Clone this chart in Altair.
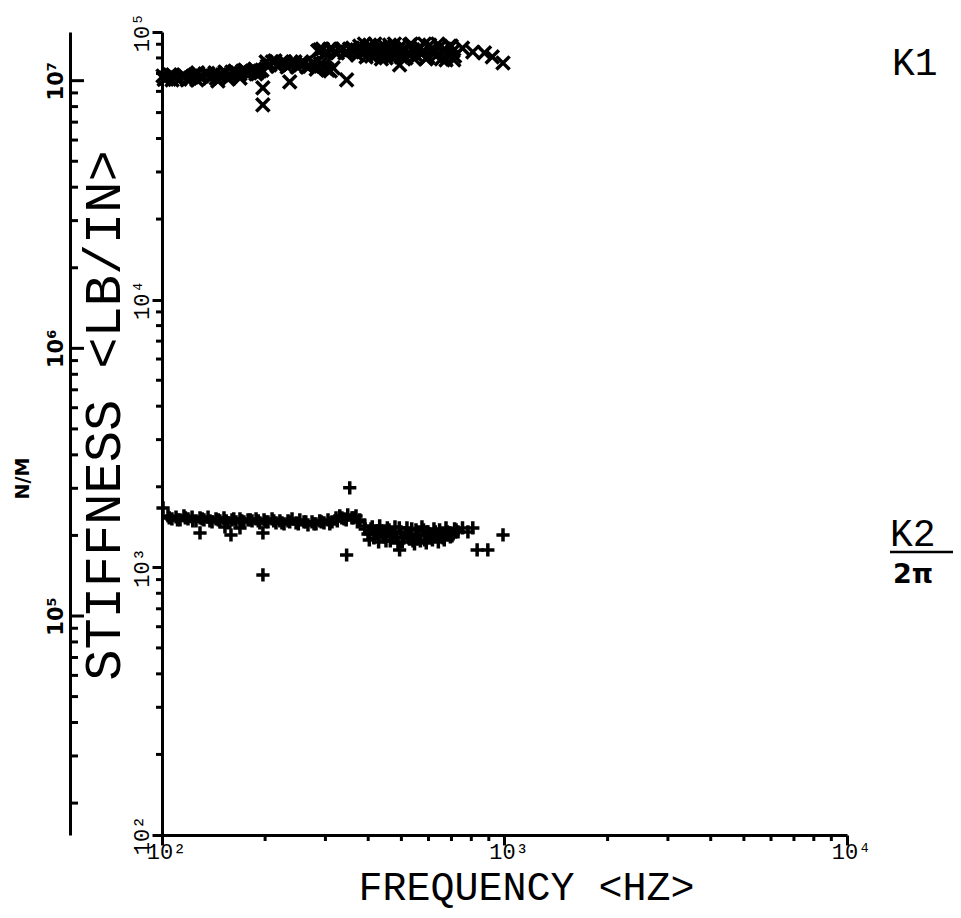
import altair as alt
import pandas as pd

# ---------------- data ----------------
# K1 : dynamic stiffness, lb/in  (x markers)
k1_freq = [100.7, 102.7, 105.5, 109.1, 112.9, 116.7, 120.7, 124.8, 129.1, 133.5,
           138.1, 142.8, 145.6, 147.6, 152.7, 157.9, 163.3, 168.9, 174.6, 180.6,
           186.7, 190.5, 195.8, 107.0, 156.0, 127.0, 169.0,
           101.5, 104.0, 107.5, 111.0, 114.5, 118.5, 122.5, 126.5, 131.0, 136.0,
           140.0, 144.0, 150.0, 155.0, 160.0, 166.0, 172.0, 177.0, 183.0, 188.0, 193.0,
           201.4, 206.6, 213.6, 220.9, 228.5, 236.3, 244.3, 252.6, 261.2, 270.2,
           279.4, 285.0, 294.8, 305.0, 316.0,
           203.0, 210.0, 217.0, 224.0, 232.0, 240.0, 248.0, 256.0, 265.0, 275.0,
           282.0, 290.0, 300.0, 310.0,
           197.0, 197.0, 236.0, 346.0,
           289.0, 299.0, 309.0, 320.0, 330.0, 342.0, 353.0, 365.0,
           285.0, 294.0, 304.0, 314.0, 325.0, 336.0, 347.0, 359.0, 371.0,
           377.8, 386.4, 394.2, 404.1, 413.1, 421.5, 432.1, 441.8, 450.8, 462.1,
           472.6, 482.2, 494.2, 505.3, 515.6, 528.5, 540.5, 551.5, 565.2, 578.1,
           589.9, 604.5, 618.3, 631.0, 646.4, 661.3, 674.8, 691.3, 707.3, 714.9,
           381.0, 390.0, 398.0, 409.0, 418.0, 427.0, 437.0, 446.0, 456.0, 467.0,
           477.0, 488.0, 499.0, 510.0, 522.0, 534.0, 546.0, 558.0, 571.0, 584.0,
           597.0, 611.0, 625.0, 639.0, 654.0, 668.0, 684.0, 699.0, 711.0, 360.0, 372.0,
           754.0, 808.0, 874.0, 921.0, 990.0, 494.0]
k1_stiff = [68500, 67300, 69100, 67900, 66700, 68500, 67300, 69100, 67900, 69700,
            67300, 70300, 65600, 68500, 70900, 69100, 71500, 69700, 72100, 70300,
            72700, 70900, 72100, 66200, 66700, 70300, 67300,
            66500, 67900, 69100, 66700, 68500, 66200, 68000, 66200, 68500, 70000,
            68500, 67300, 69100, 68000, 70900, 70300, 71500, 69700, 71500, 69700, 71500,
            77300, 75300, 78000, 75900, 77300, 75300, 77300, 75900, 76600, 74600,
            75900, 74000, 74600, 72100, 73400,
            74600, 77300, 74600, 77300, 74000, 76600, 74000, 77300, 74000, 76600,
            72700, 76000, 73400, 71500,
            61800, 53400, 65100, 66200,
            85700, 83500, 86400, 84200, 85700, 83500, 86400, 84200,
            85000, 86400, 84200, 86400, 83500, 86400, 84200, 85700, 85700,
            88600, 84200, 80700, 89400, 85700, 82000, 87800, 83500, 80000, 89400,
            85700, 81300, 87800, 84200, 80000, 89400, 85700, 82000, 87800, 83500,
            79300, 89400, 85700, 81300, 87800, 84200, 78600, 88600, 84900, 81300,
            84900, 90200, 87100, 81300, 90200, 84900, 79300, 88600, 84200, 80700,
            90200, 85700, 80700, 87100, 83500, 90200, 79300, 86400, 83500, 90200,
            80700, 86400, 83500, 90200, 79300, 86400, 82800, 88600, 78600, 87100, 82000,
            87100, 84200, 83500, 80700, 76600, 75300]

# K2 / 2pi : damping term, lb/in  (+ markers)
k2_freq = [100.7,
           104.1, 106.9, 109.9, 112.9, 115.9, 119.1, 122.4, 125.7, 129.1, 132.6,
           136.3, 140.0, 143.8, 147.6, 151.7, 155.8, 160.1, 164.5, 168.9, 173.5,
           178.3, 152.7, 168.9,
           105.0, 111.0, 117.0, 123.0, 131.0, 138.0, 146.0, 154.0, 162.0, 171.0,
           181.0, 191.0,
           129.1, 197.1, 159.0, 197.1,
           183.2, 188.2, 193.1, 198.6, 203.9, 209.6, 215.2, 220.9, 227.1, 233.3,
           239.7, 246.3, 252.6, 259.8, 266.8, 274.2, 281.6, 288.9, 297.2, 305.3,
           313.6, 322.2, 330.4, 340.0, 348.6, 358.6, 368.5, 377.8,
           201.0, 212.0, 224.0, 236.0, 250.0, 263.0, 278.0, 292.0, 309.0, 325.0,
           335.0, 345.0, 362.0, 372.0,
           353.3, 346.0,
           390.7, 399.5, 407.6, 415.9, 424.3, 432.1, 441.8, 450.8, 460.0, 469.3,
           478.9, 488.6, 498.5, 508.7, 519.0, 528.5, 540.5, 551.5, 562.7, 574.2,
           584.5, 597.7, 610.0, 622.4, 635.1, 646.4, 661.3, 674.8, 688.6, 702.6,
           714.9, 731.6, 494.0,
           392.0, 403.0, 411.0, 420.0, 429.0, 437.0, 446.0, 455.0, 464.0, 474.0,
           483.0, 493.0, 503.0, 514.0, 525.0, 536.0, 546.0, 557.0, 568.0, 580.0,
           591.0, 603.0, 616.0, 628.0, 641.0, 654.0, 667.0, 681.0, 695.0, 708.0, 722.0,
           754.0, 782.0, 808.0,
           832.0, 894.0, 990.0]
k2_stiff = [1667,
            1556, 1516, 1542, 1503, 1556, 1516, 1542, 1490, 1529, 1503,
            1542, 1478, 1516, 1490, 1529, 1465, 1503, 1478, 1516, 1478,
            1503, 1416, 1404,
            1529, 1503, 1529, 1490, 1516, 1490, 1503, 1490, 1516, 1490,
            1503, 1490,
            1344, 1344, 1321, 937,
            1490, 1516, 1465, 1503, 1478, 1516, 1465, 1490, 1452, 1490,
            1516, 1465, 1503, 1478, 1440, 1478, 1452, 1490, 1465, 1503,
            1478, 1529, 1556, 1516, 1570, 1529, 1556, 1503,
            1478, 1490, 1465, 1478, 1452, 1478, 1452, 1478, 1452, 1490,
            1529, 1503, 1529, 1478,
            1981, 1112,
            1428, 1333, 1392, 1288, 1368, 1428, 1310, 1255, 1380, 1321,
            1416, 1234, 1356, 1288, 1404, 1333, 1255, 1380, 1310, 1416,
            1266, 1356, 1299, 1392, 1321, 1380, 1288, 1404, 1344, 1310,
            1392, 1356, 1161,
            1392, 1266, 1416, 1333, 1244, 1368, 1299, 1404, 1255, 1344,
            1299, 1404, 1244, 1344, 1288, 1392, 1223, 1321, 1255, 1380,
            1234, 1333, 1266, 1356, 1244, 1321, 1266, 1356, 1299, 1333, 1380,
            1404, 1356, 1404,
            1161, 1161, 1321]

series_names = ["K1", "K2"]

# axis ticks and labels
x_minor = [200, 300, 400, 500, 600, 700, 800, 900,
           2000, 3000, 4000, 5000, 6000, 7000, 8000, 9000]
x_major = [100, 1000, 10000]
x_tick_labels = ["10²", "10³", "10⁴"]

y_minor = [200, 300, 400, 500, 600, 700, 800, 900,
           2000, 3000, 4000, 5000, 6000, 7000, 8000, 9000,
           20000, 30000, 40000, 50000, 60000, 70000, 80000, 90000]
y_major = [100, 1000, 10000, 100000]
y_tick_labels = ["10²", "10³", "10⁴", "10⁵"]

nm_minor = [20000, 30000, 40000, 50000, 60000, 70000, 80000, 90000,
            200000, 300000, 400000, 500000, 600000, 700000, 800000, 900000,
            2000000, 3000000, 4000000, 5000000, 6000000, 7000000, 8000000, 9000000]
nm_major = [100000, 1000000, 10000000]
nm_tick_labels = ["10⁵", "10⁶", "10⁷"]
nm_domain = [15200, 15200000]

side_labels = ["K1", "K2", "2π"]


def label_expr(values, labels):
    parts = [f"datum.value == {v} ? '{l}'" for v, l in zip(values, labels)]
    return " : ".join(parts) + " : ''"


# ---------------- build ----------------
df = pd.concat([
    pd.DataFrame({"freq": k1_freq, "stiff": k1_stiff, "series": series_names[0]}),
    pd.DataFrame({"freq": k2_freq, "stiff": k2_stiff, "series": series_names[1]}),
])

X_PATH = "M-1,-1L1,1M-1,1L1,-1"
PLUS_PATH = "M-1,0L1,0M0,-1L0,1"
MONO = "Liberation Mono"
TICK_W = 3

x_scale = alt.Scale(type="log", domain=[100, 10000], nice=False)
y_scale = alt.Scale(type="log", domain=[100, 100000], nice=False)
nm_scale = alt.Scale(type="log", domain=nm_domain, nice=False)

points = alt.Chart(df).mark_point(filled=False, strokeWidth=3.5, size=175,
                                  color="black", opacity=1).encode(
    x=alt.X("freq:Q", scale=x_scale,
            axis=alt.Axis(values=x_major, labelExpr=label_expr(x_major, x_tick_labels),
                          title="FREQUENCY <HZ>", titleFont=MONO, titleFontSize=40,
                          titleFontWeight="normal", titleX=364, titleY=52,
                          titleAlign="center", titleBaseline="middle",
                          labelFont=MONO, labelFontSize=22, labelAlign="center",
                          labelBaseline="alphabetic", labelPadding=13, labelOffset=4,
                          labelFlush=False, labelOverlap=False,
                          ticks=True, tickSize=10, tickWidth=TICK_W, tickColor="black",
                          grid=False)),
    y=alt.Y("stiff:Q", scale=y_scale,
            axis=alt.Axis(orient="left", values=y_major,
                          labelExpr=label_expr(y_major, y_tick_labels),
                          title="STIFFNESS <LB/IN>", titleFont=MONO, titleFontSize=52,
                          titleFontWeight="normal", titleAngle=270,
                          titleX=-59, titleY=383, titleAlign="center",
                          titleBaseline="middle",
                          labelFont=MONO, labelFontSize=22, labelAngle=270,
                          labelAlign="center", labelBaseline="alphabetic",
                          labelPadding=4, labelOverlap=False, labelFlush=False,
                          ticks=True, tickSize=10, tickWidth=TICK_W, tickColor="black",
                          grid=False)),
    shape=alt.Shape("series:N", scale=alt.Scale(domain=series_names,
                                                range=[X_PATH, PLUS_PATH]),
                    legend=None),
)


# minor tick marks, placed through the same scales
def x_ticks_layer(vals, length):
    return alt.Chart(pd.DataFrame({"freq": vals})).mark_rule(
        color="black", strokeWidth=TICK_W).encode(
        x=alt.X("freq:Q", scale=x_scale), y=alt.value(803), y2=alt.value(803 + length))


def y_ticks_layer(vals, length):
    return alt.Chart(pd.DataFrame({"stiff": vals})).mark_tick(
        color="black", thickness=TICK_W, size=length, orient="horizontal",
        opacity=1).encode(
        y=alt.Y("stiff:Q", scale=y_scale), x=alt.value(-length / 2))


def nm_ticks_layer(vals, length):
    return alt.Chart(pd.DataFrame({"nm": vals})).mark_tick(
        color="black", thickness=TICK_W, size=length, orient="horizontal",
        opacity=1).encode(
        y=alt.Y("nm:Q", scale=nm_scale), x=alt.value(-92 + length / 2))


inner_group = alt.layer(
    points, x_ticks_layer(x_minor, 6), y_ticks_layer(y_minor, 6))

outer = alt.Chart(pd.DataFrame({"nm": nm_major})).mark_tick(
    color="black", thickness=TICK_W, size=14, orient="horizontal", opacity=1).encode(
    x=alt.value(-85),
    y=alt.Y("nm:Q", scale=nm_scale,
            axis=alt.Axis(orient="right", offset=-777, values=nm_major,
                          labelExpr=label_expr(nm_major, nm_tick_labels),
                          title="N/M", titleFont="DejaVu Sans", titleFontSize=19,
                          titleFontWeight="bold", titleAngle=270,
                          titleX=-48, titleY=446, titleAlign="center",
                          titleBaseline="middle",
                          labelFont="DejaVu Sans", labelFontSize=21,
                          labelFontWeight="bold", labelAngle=270,
                          labelAlign="center", labelBaseline="alphabetic",
                          labelPadding=-8, labelOverlap=False, labelFlush=False,
                          ticks=False, grid=False)),
)
outer_group = alt.layer(outer, nm_ticks_layer(nm_minor, 8))

lab_df = pd.DataFrame({"label": side_labels})
k1_text = alt.Chart(lab_df).transform_filter(
    alt.datum.label == side_labels[0]).mark_text(
    font=MONO, fontSize=38, align="left", baseline="middle", color="black").encode(
    text="label:N", x=alt.value(730), y=alt.value(32))
k2_text = alt.Chart(lab_df).transform_filter(
    alt.datum.label == side_labels[1]).mark_text(
    font=MONO, fontSize=38, align="left", baseline="middle", color="black").encode(
    text="label:N", x=alt.value(728), y=alt.value(503))
pi_text = alt.Chart(lab_df).transform_filter(
    alt.datum.label == side_labels[2]).mark_text(
    font="DejaVu Sans", fontSize=27, fontWeight="bold", align="left",
    baseline="middle", color="black").encode(
    text="label:N", x=alt.value(731), y=alt.value(543))
underline = alt.Chart(lab_df).transform_filter(
    alt.datum.label == side_labels[1]).mark_rule(color="black", strokeWidth=2.5).encode(
    x=alt.value(728), x2=alt.value(793), y=alt.value(520))

chart = alt.layer(
    inner_group, outer_group, k1_text, k2_text, pi_text, underline,
).resolve_scale(
    y="independent"
).properties(
    width=685, height=803,
    background="white",
    autosize=alt.AutoSizeParams(type="none"),
    padding={"left": 154, "top": 24, "right": 106, "bottom": 75},
).configure_view(stroke=None).configure_axis(
    domainColor="black", domainWidth=3,
    labelColor="black", titleColor="black",
)

chart.save("out.html", embed_options={"renderer": "svg", "actions": False})
